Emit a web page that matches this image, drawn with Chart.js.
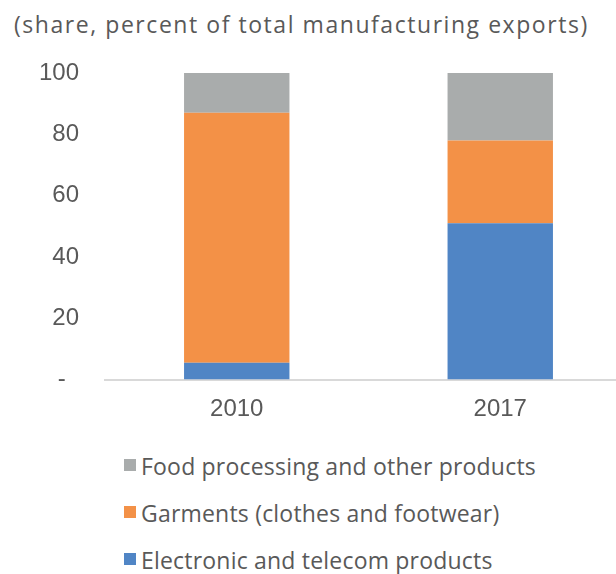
<!DOCTYPE html>
<html>
<head>
<meta charset="utf-8">
<script src="https://cdn.jsdelivr.net/npm/chart.js@4/dist/chart.umd.min.js"></script>
<style>
  html, body { margin: 0; padding: 0; background: #fff; }
  body { width: 616px; height: 574px; overflow: hidden; position: relative; font-family: "Open Sans", sans-serif; color: #595959; }
  #title { position: absolute; left: 14px; top: 11px; font-size: 23px; letter-spacing: 1.55px; line-height: 1.2; white-space: nowrap; }
  #wrap { position: absolute; left: 0; top: 0; width: 640px; height: 440px; }
  #legend { position: absolute; left: 124px; top: 453px; }
  .item { position: relative; height: 47px; font-size: 23px; letter-spacing: 0.2px; line-height: 1.2; white-space: nowrap; padding-left: 17px; }
  .item span.box { position: absolute; left: 0; top: 6px; width: 12px; height: 12px; }
</style>
</head>
<body>
<div id="title">(share, percent of total manufacturing exports)</div>
<div id="wrap"><canvas id="chart" width="640" height="440"></canvas></div>
<div id="legend"></div>
<script>
const years = ['2010', '2017'];
const electronics = [5.5, 51];
const garments = [81.5, 27];
const foodOther = [13, 22];
const yTicks = [0, 20, 40, 60, 80, 100];

const textColor = '#595959';

const chart = new Chart(document.getElementById('chart'), {
  type: 'bar',
  data: {
    labels: years,
    datasets: [
      { label: 'Electronic and telecom products', data: electronics, backgroundColor: '#5085C5' },
      { label: 'Garments (clothes and footwear)', data: garments, backgroundColor: '#F39147' },
      { label: 'Food processing and other products', data: foodOther, backgroundColor: '#A9ACAC' }
    ]
  },
  options: {
    responsive: false,
    animation: false,
    layout: { padding: { top: 73, right: 8, bottom: 0, left: 0 } },
    datasets: { bar: { barPercentage: 0.4, categoryPercentage: 1 } },
    plugins: { legend: { display: false }, tooltip: { enabled: false } },
    scales: {
      x: {
        stacked: true,
        grid: { display: false, drawTicks: false },
        border: { display: true, color: '#d9d9d9', width: 2 },
        ticks: { color: textColor, padding: 15, font: { family: 'Liberation Sans', size: 24 } },
        afterFit: (scale) => { scale.height = 60.5; }
      },
      y: {
        stacked: true,
        min: 0,
        max: 100,
        afterBuildTicks: (scale) => { scale.ticks = yTicks.map(v => ({ value: v })); },
        grid: { display: false, drawTicks: false },
        border: { display: false },
        ticks: {
          color: textColor,
          padding: 26,
          font: { family: 'Liberation Sans', size: 24 },
          callback: (v) => v === 0 ? '-  ' : v
        },
        afterFit: (scale) => { scale.width = 105; }
      }
    }
  }
});

// legend, top-down in reverse stacking order
const legend = document.getElementById('legend');
chart.data.datasets.slice().reverse().forEach(ds => {
  const row = document.createElement('div');
  row.className = 'item';
  row.innerHTML = `<span class="box" style="background:${ds.backgroundColor}"></span>${ds.label}`;
  legend.appendChild(row);
});
</script>
</body>
</html>
